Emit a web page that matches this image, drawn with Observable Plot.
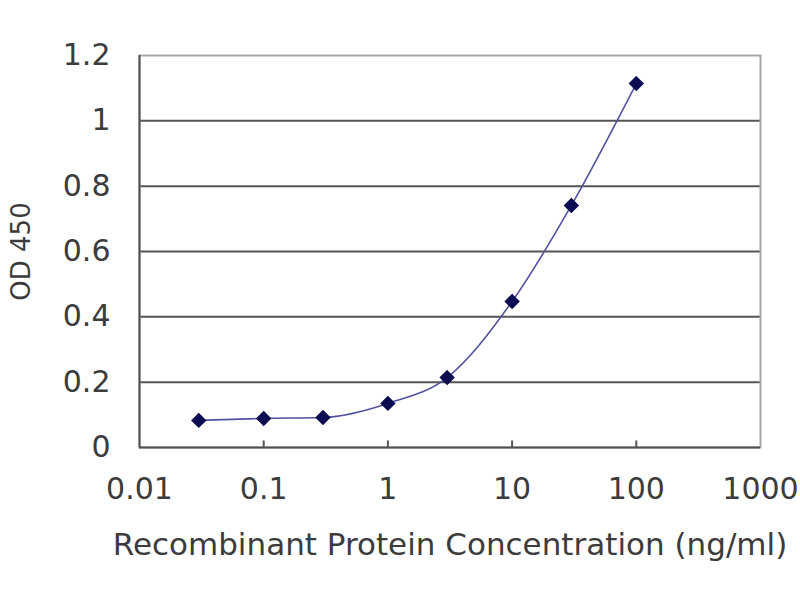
<!DOCTYPE html>
<html>
<head>
<meta charset="utf-8">
<script src="https://cdn.jsdelivr.net/npm/d3@7"></script>
<script src="https://cdn.jsdelivr.net/npm/@observablehq/plot@0.6"></script>
<style>
  body { margin: 0; background: #fff; }
  #chart svg { font-family: "DejaVu Sans", sans-serif; }
</style>
</head>
<body>
<div id="chart"></div>
<script>
// concentrations (ng/ml) and OD 450 readings
const conc = [0.03, 0.1, 0.3, 1, 3, 10, 30, 100];
const od = [0.083, 0.089, 0.092, 0.135, 0.214, 0.447, 0.741, 1.114];
const xTicks = [0.01, 0.1, 1, 10, 100, 1000];
const xTickLabels = ["0.01", "0.1", "1", "10", "100", "1000"];
const yTicks = [0, 0.2, 0.4, 0.6, 0.8, 1, 1.2];

const data = conc.map((c, i) => ({conc: c, od: od[i]}));

let chart = Plot.plot({
  width: 800,
  height: 600,
  marginLeft: 139,
  marginRight: 40,
  marginTop: 55,
  marginBottom: 153,
  style: {color: "#3c3c3c", background: "#fff"},
  x: {type: "log", domain: [0.01, 1000]},
  y: {domain: [0, 1.2]},
  marks: [
    Plot.gridY(yTicks.slice(1, -1), {stroke: "#555", strokeOpacity: 1, strokeWidth: 2}),
    Plot.frame({stroke: "#a8a8a8", strokeWidth: 2}),
    Plot.ruleX(xTicks.slice(1, -1), {y1: 0, y2: 0.02, stroke: "#555", strokeWidth: 2}),
    Plot.ruleX([0.01], {stroke: "#505050", strokeWidth: 2}),
    Plot.ruleY([0], {stroke: "#505050", strokeWidth: 2}),
    Plot.axisY(yTicks, {
      tickSize: 0, tickPadding: 29, fontSize: 30,
      tickFormat: d => String(d),
      label: "OD 450", labelAnchor: "center", labelArrow: "none", labelOffset: 128
    }),
    Plot.axisX(xTicks, {
      tickSize: 0, tickPadding: 30, fontSize: 30,
      tickFormat: d => xTickLabels[xTicks.indexOf(d)],
      label: "Recombinant Protein Concentration (ng/ml)", labelAnchor: "center",
      labelArrow: "none", labelOffset: 107
    }),
    Plot.line(data, {x: "conc", y: "od", curve: "monotone-x", stroke: "#5252a0", strokeWidth: 1.6}),
    Plot.dot(data, {x: "conc", y: "od", symbol: "diamond2", r: 6, fill: "#0c0c52", stroke: "#0c0c52"})
  ]
});

d3.select("#chart").append(() => chart);
// axis label sizes
d3.select(chart).selectAll("[aria-label='y-axis label'] text").attr("font-size", 26);
d3.select(chart).selectAll("[aria-label='x-axis label'] text").attr("font-size", 31);
</script>
</body>
</html>
